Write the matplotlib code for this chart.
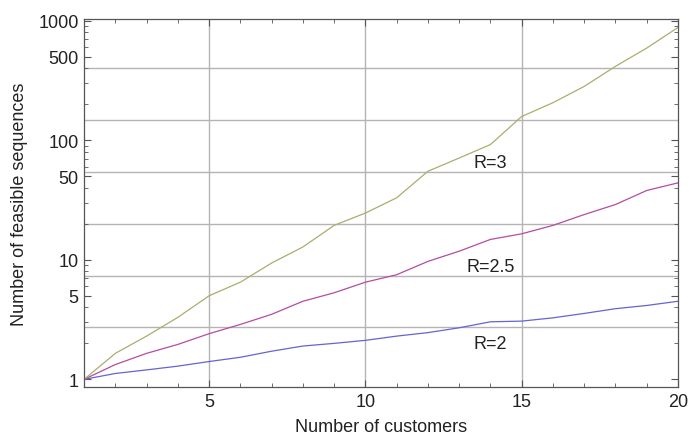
import numpy as np
import matplotlib.pyplot as plt
from matplotlib.ticker import FixedLocator, NullFormatter

plt.rcParams['font.family'] = ['Liberation Sans', 'DejaVu Sans']

customers = list(range(1, 21))
seq_r2 = [1, 1.12, 1.2, 1.29, 1.41, 1.53, 1.72, 1.9, 2.0, 2.12,
          2.3, 2.46, 2.7, 3.03, 3.07, 3.27, 3.56, 3.9, 4.15, 4.5]
seq_r25 = [1, 1.33, 1.65, 1.96, 2.41, 2.88, 3.5, 4.5, 5.3, 6.5,
           7.5, 9.7, 11.8, 14.8, 16.5, 19.4, 23.9, 29, 38, 44]
seq_r3 = [1, 1.65, 2.3, 3.3, 5.0, 6.5, 9.4, 12.8, 19.4, 24.6,
          33, 55, 71, 92, 158, 206, 282, 415, 590, 877]
y_ticks = [1, 5, 10, 50, 100, 500, 1000]
x_ticks = [5, 10, 15, 20]

fig = plt.figure(figsize=(6.89, 4.39), dpi=100)
ax = fig.add_axes([0.122, 0.116, 0.862, 0.838])

# grid: vertical at the major x ticks, horizontal at powers of e
for xv in [5, 10, 15]:
    ax.axvline(xv, color='#b4b4b4', lw=1.0, zorder=0)
for k in range(1, 7):
    ax.axhline(np.e ** k, color='#b4b4b4', lw=1.0, zorder=0)

ax.plot(customers, seq_r2, color='#6464d2', lw=0.9)
ax.plot(customers, seq_r25, color='#b44ca2', lw=0.9)
ax.plot(customers, seq_r3, color='#acac6e', lw=0.9)

ax.text(14.0, 65, 'R=3', fontsize=13, ha='center', va='center', color='#222222')
ax.text(14.0, 8.8, 'R=2.5', fontsize=13, ha='center', va='center', color='#222222')
ax.text(14.0, 2.0, 'R=2', fontsize=13, ha='center', va='center', color='#222222')

ax.set_yscale('log')
ax.set_xlim(1, 20)
ax.set_ylim(0.862, 1029)

ax.yaxis.set_major_locator(FixedLocator(y_ticks))
ax.set_yticklabels([str(v) for v in y_ticks])
minor_y = [m * 10 ** d for d in range(0, 3) for m in range(2, 10) if m != 5]
ax.yaxis.set_minor_locator(FixedLocator(minor_y))
ax.yaxis.set_minor_formatter(NullFormatter())
ax.xaxis.set_major_locator(FixedLocator(x_ticks))
ax.set_xticklabels([str(v) for v in x_ticks])
ax.xaxis.set_minor_locator(FixedLocator([v for v in customers if v not in x_ticks]))

ax.tick_params(which='both', direction='in', top=True, right=True,
               colors='#555555', labelcolor='#222222', labelsize=13)
ax.tick_params(which='major', length=5, width=0.8, pad=4)
ax.tick_params(which='minor', length=3, width=0.6)
for sp in ax.spines.values():
    sp.set_color('#555555')
    sp.set_linewidth(0.9)

ax.set_xlabel('Number of customers', fontsize=13, color='#222222', labelpad=6)
ax.set_ylabel('Number of feasible sequences', fontsize=13, color='#222222', labelpad=7)

fig.savefig('out.png', dpi=100)
